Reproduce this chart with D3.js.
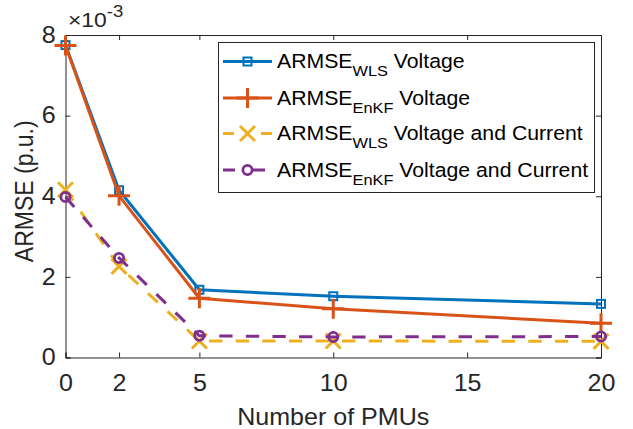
<!DOCTYPE html>
<html>
<head>
<meta charset="utf-8">
<script src="https://cdn.jsdelivr.net/npm/d3@7/dist/d3.min.js"></script>
<style>
    html, body { margin: 0; padding: 0; background: #fff; }
    svg { display: block; font-family: "Liberation Sans", Arial, Helvetica, sans-serif; }
</style>
</head>
<body>
<svg id="chart" width="633" height="429"></svg>
<script>
    // data (values in 1e-3 p.u.)
    let pmus = [0, 2, 5, 10, 20];
    let wlsVoltage = [7.75, 4.15, 1.68, 1.52, 1.33];
    let enkfVoltage = [7.74, 4.01, 1.47, 1.21, 0.85];
    let wlsVoltCurr = [4.16, 2.26, 0.41, 0.41, 0.40];
    let enkfVoltCurr = [3.98, 2.47, 0.54, 0.51, 0.52];
    let xTicks = [0, 2, 5, 10, 15, 20];
    let yTicks = [0, 2, 4, 6, 8];
    let seriesNames = ['WLS', 'EnKF', 'WLS', 'EnKF'];
    let seriesSuffix = ['Voltage', 'Voltage', 'Voltage and Current', 'Voltage and Current'];

    let plotLeft = 65.5,
        plotRight = 601,
        plotTop = 35,
        plotBottom = 357.5,
        stretch = 1.09, // 文字略宽
        axisColor = '#262626';

    let svg = d3.select('#chart');

    let x = d3.scaleLinear().domain([0, 20]).range([plotLeft, plotRight]);
    let y = d3.scaleLinear().domain([0, 8]).range([plotBottom, plotTop]);

    // 坐标轴
    let axisG = svg.append('g');
    axisG.append('g')
        .attr('transform', 'translate(0,' + plotBottom + ')')
        .call(d3.axisBottom(x).tickValues(xTicks).tickSize(-5).tickPadding(17).tickFormat(d3.format('d')));
    axisG.append('g')
        .attr('transform', 'translate(0,' + plotTop + ')')
        .call(d3.axisTop(x).tickValues(xTicks).tickSize(-5).tickFormat(''));
    axisG.append('g')
        .attr('transform', 'translate(' + plotLeft + ',0)')
        .call(d3.axisLeft(y).tickValues(yTicks).tickSize(-5).tickPadding(9).tickFormat(d3.format('d')));
    axisG.append('g')
        .attr('transform', 'translate(' + plotRight + ',0)')
        .call(d3.axisRight(y).tickValues(yTicks).tickSize(-5).tickFormat(''));
    axisG.selectAll('path.domain').attr('stroke', axisColor).attr('stroke-width', 1);
    axisG.selectAll('.tick line').attr('stroke', axisColor).attr('stroke-width', 1);
    axisG.selectAll('.tick text').filter(function () { return this.textContent === ''; }).remove();
    axisG.selectAll('.tick text')
        .attr('fill', axisColor)
        .attr('font-size', 23)
        .attr('font-family', '"Liberation Sans", Arial, sans-serif')
        .attr('transform', 'scale(' + stretch + ',1)');

    // 轴标签
    svg.append('text')
        .attr('transform', 'translate(' + ((plotLeft + plotRight) / 2) + ',425) scale(' + stretch + ',1)')
        .attr('text-anchor', 'middle')
        .attr('fill', axisColor)
        .attr('font-size', 23)
        .text('Number of PMUs');
    svg.append('text')
        .attr('transform', 'translate(33,' + ((plotTop + plotBottom) / 2 - 5) + ') scale(' + stretch + ',1) rotate(-90)')
        .attr('text-anchor', 'middle')
        .attr('fill', axisColor)
        .attr('font-size', 23)
        .text('ARMSE (p.u.)');

    // 指数
    let expo = svg.append('text')
        .attr('transform', 'translate(68,27) scale(' + stretch + ',1)')
        .attr('fill', axisColor)
        .attr('font-size', 21);
    expo.append('tspan').text('\u00d710');
    expo.append('tspan').attr('dy', -10).attr('font-size', 17).text('-3');

    // 系列
    let series = [
        { values: wlsVoltage, color: '#0072BD', dash: null, legendDash: null, marker: 'square' },
        { values: enkfVoltage, color: '#D95319', dash: null, legendDash: null, marker: 'plus' },
        { values: wlsVoltCurr, color: '#EDB120', dash: '13.3,13.3', legendDash: '11,27,11', marker: 'cross' },
        { values: enkfVoltCurr, color: '#7E2F8E', dash: '13.3,13.3', legendDash: '12,18,12', marker: 'circle' }
    ];

    let line = d3.line()
        .x((d, i) => x(pmus[i]))
        .y(d => y(d));

    let drawMarker = (g, type, cx, cy, color) => {
        if (type === 'square') {
            g.append('rect')
                .attr('x', cx - 4).attr('y', cy - 4)
                .attr('width', 8).attr('height', 8)
                .attr('fill', 'none').attr('stroke', color).attr('stroke-width', 2);
        } else if (type === 'plus') {
            g.append('path')
                .attr('d', 'M' + (cx - 11) + ',' + cy + 'H' + (cx + 11) + 'M' + cx + ',' + (cy - 10) + 'V' + (cy + 10))
                .attr('stroke', color).attr('stroke-width', 3).attr('fill', 'none');
        } else if (type === 'cross') {
            g.append('path')
                .attr('d', 'M' + (cx - 7.5) + ',' + (cy - 7.5) + 'L' + (cx + 7.5) + ',' + (cy + 7.5) +
                    'M' + (cx - 7.5) + ',' + (cy + 7.5) + 'L' + (cx + 7.5) + ',' + (cy - 7.5))
                .attr('stroke', color).attr('stroke-width', 3).attr('fill', 'none');
        } else if (type === 'circle') {
            g.append('circle')
                .attr('cx', cx).attr('cy', cy).attr('r', 4.6)
                .attr('fill', 'none').attr('stroke', color).attr('stroke-width', 2.8);
        }
    };

    let plotG = svg.append('g');
    series.forEach(s => {
        let g = plotG.append('g');
        g.append('path')
            .datum(s.values)
            .attr('d', line)
            .attr('fill', 'none')
            .attr('stroke', s.color)
            .attr('stroke-width', 3)
            .attr('stroke-dasharray', s.dash);
        s.values.forEach((v, i) => drawMarker(g, s.marker, x(pmus[i]), y(v), s.color));
    });

    // 图例
    let legend = svg.append('g');
    legend.append('rect')
        .attr('x', 218.5).attr('y', 42.5)
        .attr('width', 376).attr('height', 150)
        .attr('fill', '#fff').attr('stroke', axisColor).attr('stroke-width', 1);
    let rowY = [61.5, 98, 133.5, 170];
    series.forEach((s, i) => {
        let g = legend.append('g');
        g.append('path')
            .attr('d', 'M223,' + rowY[i] + 'H272')
            .attr('stroke', s.color).attr('stroke-width', 3)
            .attr('stroke-dasharray', s.legendDash)
            .attr('fill', 'none');
        drawMarker(g, s.marker, 247.5, rowY[i], s.color);
        let t = g.append('text')
            .attr('transform', 'translate(277,' + (rowY[i] + 6.5) + ') scale(' + stretch + ',1)')
            .attr('fill', '#000')
            .attr('font-size', 19.5);
        t.append('tspan').text('ARMSE');
        t.append('tspan').attr('dy', 8).attr('font-size', 15).text(seriesNames[i]);
        t.append('tspan').attr('dy', -8).text('\u00a0' + seriesSuffix[i]);
    });
</script>
</body>
</html>
